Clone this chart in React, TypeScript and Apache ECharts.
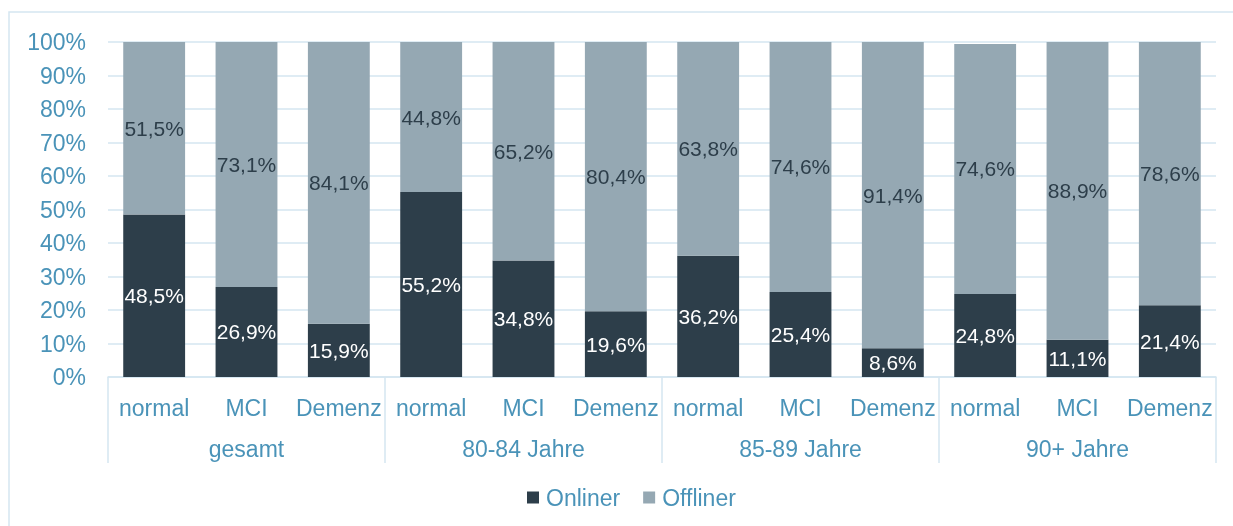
import React, { useEffect, useRef } from "react";
import * as echarts from "echarts";

const categories = ["normal", "MCI", "Demenz", "normal", "MCI", "Demenz", "normal", "MCI", "Demenz", "normal", "MCI", "Demenz"];
const groups = ["gesamt", "80-84 Jahre", "85-89 Jahre", "90+ Jahre"];
const onliner = [48.5, 26.9, 15.9, 55.2, 34.8, 19.6, 36.2, 25.4, 8.6, 24.8, 11.1, 21.4];
const offliner = [51.5, 73.1, 84.1, 44.8, 65.2, 80.4, 63.8, 74.6, 91.4, 74.6, 88.9, 78.6];

const BLUE = "#4a93b8";
const GRID = "#d5e6f1";
const FONT = "Liberation Sans, Arial, sans-serif";

const fmt = (v: number) => v.toFixed(1).replace(".", ",") + "%";

export default function App() {
  const ref = useRef<HTMLDivElement>(null);
  useEffect(() => {
    const chart = echarts.init(ref.current!, null, { renderer: "svg" });
    chart.setOption({
      animation: false,
      textStyle: { fontFamily: FONT },
      graphic: [
        {
          type: "rect",
          shape: { x: 9, y: 12, width: 1240, height: 540 },
          style: { fill: "none", stroke: GRID, lineWidth: 1.5 },
          silent: true,
        },
      ],
      grid: { left: 108, right: 17, top: 42, bottom: 149 },
      legend: {
        data: ["Onliner", "Offliner"],
        bottom: 12,
        left: 522,
        icon: "rect",
        itemWidth: 12,
        itemHeight: 12,
        itemGap: 23,
        textStyle: { color: BLUE, fontSize: 23, fontFamily: FONT, padding: [0, 0, 0, 2] },
      },
      xAxis: [
        {
          type: "category",
          data: categories,
          position: "bottom",
          axisLine: { show: true, lineStyle: { color: GRID, width: 1.5 } },
          axisTick: { show: false },
          axisLabel: { color: BLUE, fontSize: 23, fontFamily: FONT, margin: 19, interval: 0 },
        },
        {
          type: "category",
          data: groups,
          position: "bottom",
          axisLine: { show: false },
          axisTick: { show: true, length: 86, lineStyle: { color: GRID, width: 1.5 } },
          axisLabel: { color: BLUE, fontSize: 23, fontFamily: FONT, margin: 60, interval: 0 },
        },
      ],
      yAxis: {
        type: "value",
        min: 0,
        max: 100,
        interval: 10,
        axisLine: { show: false },
        axisTick: { show: false },
        axisLabel: { color: BLUE, fontSize: 23, fontFamily: FONT, formatter: "{value}%", margin: 22 },
        splitLine: { lineStyle: { color: GRID, width: 1.5 } },
      },
      series: [
        {
          name: "Onliner",
          type: "bar",
          stack: "a",
          data: onliner,
          barCategoryGap: "33%",
          itemStyle: { color: "#2d3e4a" },
          label: {
            show: true,
            position: "inside",
            color: "#ffffff",
            fontSize: 21,
            fontFamily: FONT,
            formatter: (p: any) => fmt(p.value),
          },
        },
        {
          name: "Offliner",
          type: "bar",
          stack: "a",
          data: offliner,
          itemStyle: { color: "#95a8b3" },
          label: {
            show: true,
            position: "inside",
            color: "#2d3e4a",
            fontSize: 21,
            fontFamily: FONT,
            formatter: (p: any) => fmt(p.value),
          },
        },
      ],
    });
    return () => chart.dispose();
  }, []);
  return <div ref={ref} style={{ position: "fixed", left: 0, top: 0, width: 1233, height: 526 }} />;
}
